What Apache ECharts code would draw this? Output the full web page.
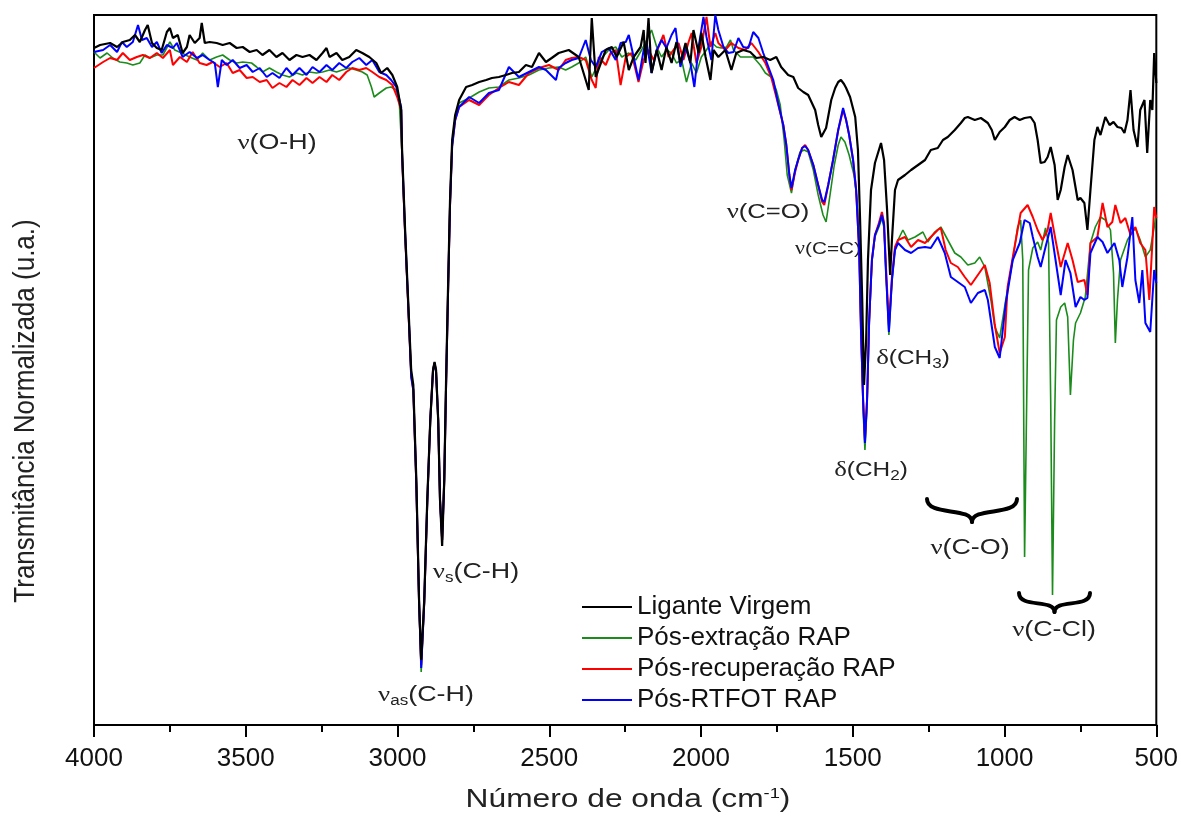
<!DOCTYPE html>
<html lang="pt-BR">
	<head>
		<meta charset="utf-8" />
		<title>FTIR</title>
	</head>
	<body style="margin:0">
		<div id="main" style="width: 1181px;height: 825px"></div>

		<script src="https://cdn.jsdelivr.net/npm/echarts@6/dist/echarts.min.js"></script>
		<script type="text/javascript">
			// [número de onda (cm-1), transmitância normalizada (u.a.)]
			const ligante = [
				[4000,67.7],[3980,68.0],[3947,68.2],[3924,67.8],[3905,68.3],[3882,68.5],[3865,69.0],[3849,68.3],[3832,69.5],[3823,70.0],[3809,68.2],[3793,67.7],[3777,67.5],[3760,69.3],[3750,69.7],[3740,68.7],[3724,69.0],[3708,67.2],[3694,67.8],[3685,69.0],[3668,68.2],[3652,68.7],[3645,70.2],[3635,68.2],[3619,68.3],[3596,68.2],[3576,68.0],[3553,68.2],[3530,67.7],[3510,67.8],[3487,67.3],[3464,67.5],[3445,67.0],[3422,67.5],[3399,66.8],[3379,67.2],[3356,66.5],[3333,67.0],[3313,66.8],[3290,67.0],[3267,66.5],[3247,67.2],[3234,67.7],[3224,66.8],[3201,67.2],[3182,66.5],[3159,66.8],[3136,67.5],[3116,67.2],[3093,66.8],[3070,66.2],[3054,65.2],[3034,65.7],[3017,65.0],[3001,63.8],[2988,61.5],
				[2985,57.5],[2975,49.5],[2965,42.5],[2955,35.5],[2948,34.0],[2938,24.5],[2929,12.5],[2922,6.5],[2912,12.5],[2902,22.5],[2892,30.5],[2883,35.5],[2878,36.3],[2873,35.5],[2866,30.5],[2860,22.5],[2853,17.9],[2846,24.5],[2840,34.5],[2833,44.5],[2827,52.5],[2820,58.5],[2810,61.0],
				[2797,62.5],[2774,63.8],[2754,64.0],[2731,64.3],[2708,64.5],[2689,64.7],[2666,64.8],[2643,65.0],[2623,65.2],[2600,65.3],[2577,66.0],[2557,65.8],[2534,67.2],[2511,66.3],[2492,66.7],[2469,67.2],[2436,67.5],[2403,66.8],[2370,63.5],[2360,70.7],[2347,64.8],[2330,66.2],[2314,67.5],[2294,67.8],[2278,66.8],[2255,68.3],[2238,65.5],[2222,66.8],[2199,67.8],[2189,69.5],[2183,66.2],[2173,70.7],[2163,65.2],[2146,67.5],[2130,65.5],[2114,67.8],[2097,66.2],[2081,68.3],[2068,66.2],[2051,68.2],[2035,66.2],[2025,69.5],[2008,67.2],[1999,69.2],[1985,66.8],[1969,64.5],[1959,67.5],[1943,66.8],[1920,67.5],[1900,65.5],[1884,67.2],[1861,67.5],[1838,67.3],[1818,66.7],[1795,66.8],[1772,66.5],[1752,66.8],[1736,65.8],[1713,65.0],[1696,64.8],[1680,63.7],[1663,63.3],[1647,63.0],[1624,61.5],[1614,60.0],[1604,58.8],[1588,59.7],[1571,62.5],[1558,63.7],[1548,64.3],[1539,64.5],[1529,64.1],[1522,63.7],[1509,62.8],[1492,60.8],[1483,57.5],[1476,50.5],[1469,42.5],[1463,34.0],[1456,38.5],[1450,46.5],[1440,53.5],[1427,56.2],[1414,57.5],[1407,58.2],[1397,56.5],[1387,51.5],[1377,45.0],[1371,48.5],[1361,53.5],[1351,54.5],[1328,55.0],[1308,55.5],[1285,56.0],[1262,56.5],[1243,57.5],[1220,57.7],[1203,58.5],[1187,58.8],[1164,59.5],[1144,60.2],[1131,60.7],[1121,60.8],[1098,60.5],[1078,60.7],[1055,60.2],[1042,59.5],[1032,58.5],[1016,59.3],[999,59.8],[983,60.5],[967,60.8],[950,60.5],[934,60.7],[914,60.8],[901,60.2],[891,58.5],[881,56.2],[868,56.3],[858,56.8],[848,57.8],[835,56.0],[825,52.5],[815,53.5],[802,55.8],[792,57.0],[786,57.2],[776,55.5],[759,52.5],[750,52.7],[737,52.2],[727,49.5],[717,53.5],[704,58.5],[694,59.8],[684,59.0],[668,60.8],[654,60.0],[641,60.3],[628,59.8],[615,59.7],[605,59.2],[595,60.5],[585,63.5],[575,59.5],[562,57.8],[553,61.5],[539,62.5],[530,57.2],[520,62.5],[513,61.5],[507,67.2],[503,65.5],[500,64.2]
			];
			const posExtracao = [
				[4000,67.3],[3980,66.7],[3957,67.2],[3938,66.7],[3915,66.3],[3892,66.2],[3872,66.0],[3849,66.2],[3832,67.0],[3816,66.7],[3793,67.0],[3773,67.0],[3750,68.3],[3734,67.5],[3711,67.2],[3685,66.8],[3661,66.5],[3642,67.2],[3619,66.5],[3596,66.8],[3576,67.0],[3553,66.5],[3530,66.2],[3510,66.3],[3481,66.2],[3464,65.8],[3445,65.3],[3422,65.7],[3399,65.3],[3379,65.0],[3356,64.8],[3333,65.2],[3313,65.0],[3290,65.3],[3267,65.2],[3247,65.3],[3224,65.5],[3201,65.3],[3182,65.5],[3159,65.7],[3136,65.5],[3116,65.3],[3100,65.0],[3086,63.8],[3077,62.8],[3060,63.2],[3037,63.7],[3021,63.8],[3004,63.5],[2994,62.2],
				[2985,57.0],[2975,49.0],[2965,42.0],[2955,35.0],[2948,33.5],[2938,24.0],[2929,12.0],[2922,5.3],[2912,12.0],[2902,22.0],[2892,30.5],[2883,35.5],[2878,36.2],[2873,35.3],[2866,30.5],[2860,22.5],[2853,18.5],[2846,24.5],[2840,34.0],[2833,44.0],[2827,52.0],[2820,58.0],[2810,60.8],
				[2797,62.2],[2764,62.7],[2731,63.3],[2699,63.7],[2666,63.8],[2633,64.5],[2600,64.7],[2567,65.0],[2534,65.5],[2501,65.7],[2469,65.8],[2446,65.5],[2426,65.8],[2403,66.2],[2380,66.8],[2360,64.8],[2344,65.8],[2327,66.7],[2304,67.5],[2281,67.8],[2261,66.8],[2238,67.2],[2215,66.5],[2196,67.5],[2179,68.5],[2163,69.5],[2146,67.8],[2130,66.8],[2114,67.5],[2097,67.2],[2081,66.2],[2064,66.5],[2048,64.3],[2031,66.2],[2015,65.2],[1999,66.8],[1982,67.5],[1966,68.3],[1949,67.8],[1933,67.7],[1916,67.8],[1903,68.5],[1893,67.5],[1870,66.8],[1851,66.8],[1828,66.8],[1805,66.0],[1788,65.2],[1769,64.8],[1752,63.5],[1739,62.0],[1726,58.5],[1716,55.0],[1702,53.2],[1690,55.5],[1674,57.3],[1660,57.5],[1647,57.3],[1630,55.5],[1614,53.0],[1598,51.0],[1588,50.3],[1575,53.0],[1561,56.0],[1548,58.0],[1539,58.8],[1526,58.3],[1512,57.0],[1496,55.0],[1486,52.5],[1479,47.5],[1473,39.5],[1466,31.5],[1460,27.5],[1453,32.0],[1446,40.0],[1437,46.3],[1427,48.8],[1414,49.8],[1404,50.7],[1397,49.7],[1391,45.3],[1381,39.0],[1371,44.3],[1361,47.5],
				[1351,48.5],[1335,49.5],[1318,48.5],[1295,48.8],[1269,49.3],[1253,48.3],[1230,49.3],[1210,49.8],[1187,48.5],[1164,47.2],[1144,46.8],[1121,46.0],[1098,46.2],[1082,46.8],[1065,45.8],[1045,42.5],[1032,39.8],[1016,38.7],[996,42.5],[973,46.5],[957,49.8],[947,50.5],[940,46.5],[934,16.8],[927,32.5],[921,45.5],[907,47.7],[891,48.3],[881,47.5],[865,49.7],[855,48.2],[848,32.5],[842,13.0],[835,30.5],[829,40.5],[815,41.8],[802,42.2],[792,40.8],[783,33.0],[773,38.5],[766,40.2],[750,41.2],[734,42.8],[717,48.2],[701,49.8],[684,50.8],[668,50.5],[651,49.5],[641,45.2],[635,38.2],[628,42.5],[618,46.5],[595,48.5],[585,49.0],[569,49.7],[553,48.5],[536,46.8],[520,47.5],[503,50.5],[500,51.0]
			];
			const posRecuperacao = [
				[4000,65.7],[3970,66.3],[3947,66.7],[3924,66.5],[3905,67.2],[3882,66.5],[3859,66.8],[3839,67.0],[3816,66.7],[3793,67.2],[3773,66.7],[3750,67.5],[3740,66.0],[3717,66.8],[3694,66.3],[3675,67.3],[3652,66.2],[3629,66.0],[3609,66.3],[3586,65.8],[3563,66.2],[3543,65.2],[3520,65.5],[3497,64.7],[3477,64.8],[3454,64.3],[3431,64.5],[3412,63.7],[3389,64.2],[3366,63.8],[3346,64.5],[3323,64.0],[3300,64.7],[3280,64.2],[3257,64.8],[3234,64.3],[3215,65.0],[3192,64.5],[3169,65.3],[3149,65.7],[3126,65.5],[3103,65.7],[3083,65.3],[3060,64.8],[3037,64.5],[3017,64.0],[3001,62.8],[2988,61.5],
				[2985,57.0],[2975,49.0],[2965,42.0],[2955,35.0],[2948,33.5],[2938,24.0],[2929,12.2],[2922,6.0],[2912,12.2],[2902,22.2],[2892,30.5],[2883,35.5],[2878,36.2],[2873,35.3],[2866,30.5],[2860,22.5],[2853,18.5],[2846,24.5],[2840,34.0],[2833,44.0],[2827,52.0],[2820,58.0],[2810,60.5],
				[2797,61.8],[2764,62.5],[2731,62.0],[2699,63.0],[2666,63.7],[2633,64.3],[2600,64.0],[2567,65.2],[2534,65.7],[2501,66.0],[2469,65.5],[2446,66.5],[2426,66.7],[2403,66.8],[2380,66.5],[2360,64.5],[2347,63.7],[2337,66.8],[2314,66.0],[2298,67.2],[2281,67.5],[2265,64.0],[2248,66.8],[2229,67.2],[2206,64.3],[2189,66.5],[2173,67.5],[2156,66.5],[2140,67.8],[2124,69.0],[2107,66.8],[2091,67.5],[2074,68.2],[2058,66.5],[2041,68.3],[2031,69.2],[2015,66.2],[1999,67.8],[1982,70.8],[1969,67.8],[1953,69.2],[1943,68.2],[1920,67.5],[1900,68.2],[1877,67.7],[1854,67.5],[1834,68.2],[1811,67.3],[1788,66.2],[1769,64.8],[1752,62.8],[1729,60.0],[1719,58.0],[1709,55.0],[1702,53.5],[1690,55.3],[1680,56.5],[1667,57.7],[1657,58.0],[1647,57.5],[1630,56.0],[1614,54.0],[1601,52.3],[1594,52.0],[1581,54.0],[1565,56.5],[1548,59.5],[1532,61.5],[1522,60.5],[1512,59.0],[1499,56.5],[1489,53.5],[1479,47.5],[1473,39.5],[1466,32.5],[1460,28.5],[1453,32.5],[1446,40.5],[1437,46.5],[1427,49.0],[1414,50.2],[1404,51.3],[1397,50.2],[1391,46.0],[1381,40.0],[1371,44.8],[1361,47.8],
				[1351,48.5],[1328,48.8],[1308,47.8],[1285,48.5],[1262,48.2],[1243,48.8],[1220,49.5],[1210,49.7],[1194,47.5],[1177,46.2],[1154,45.8],[1131,44.8],[1111,44.0],[1088,45.0],[1065,46.0],[1049,44.2],[1032,40.0],[1016,37.2],[999,38.8],[990,43.8],[967,47.8],[947,51.2],[924,52.0],[907,50.8],[891,49.5],[875,48.5],[858,49.5],[848,51.2],[832,48.5],[815,45.8],[792,48.2],[776,46.5],[759,44.3],[737,44.5],[727,43.0],[717,48.2],[694,48.8],[677,52.2],[661,49.8],[645,50.3],[635,52.0],[618,50.2],[602,50.7],[585,49.0],[569,49.8],[553,48.2],[536,47.5],[523,42.5],[513,48.2],[507,51.8],[500,50.7]
			];
			const posRtfot = [
				[4000,67.3],[3970,67.5],[3947,68.0],[3924,67.3],[3908,68.3],[3892,67.8],[3872,68.3],[3855,70.0],[3842,68.5],[3826,68.7],[3809,67.8],[3793,68.3],[3777,67.2],[3760,68.0],[3740,67.7],[3727,68.2],[3708,66.8],[3685,67.3],[3661,66.7],[3642,67.0],[3619,66.5],[3602,66.2],[3592,63.8],[3579,66.5],[3563,66.0],[3543,66.5],[3520,65.7],[3497,66.0],[3477,65.3],[3454,65.7],[3431,64.8],[3412,65.2],[3389,64.7],[3366,65.7],[3346,65.0],[3323,65.7],[3300,65.0],[3280,65.8],[3257,65.3],[3234,66.0],[3215,65.5],[3192,66.2],[3169,65.7],[3149,66.3],[3126,66.7],[3103,66.0],[3083,66.5],[3060,65.3],[3037,65.0],[3021,64.5],[3004,63.8],[2988,61.8],
				[2985,57.2],[2975,49.2],[2965,42.2],[2955,34.8],[2948,33.5],[2938,24.0],[2929,12.2],[2922,5.7],[2912,12.2],[2902,22.2],[2892,30.5],[2883,35.5],[2878,36.2],[2873,35.3],[2866,30.5],[2860,22.5],[2853,18.5],[2846,24.5],[2840,34.0],[2833,44.0],[2827,52.0],[2820,57.8],[2810,60.5],
				[2797,61.8],[2764,62.8],[2731,62.2],[2699,63.2],[2666,63.5],[2633,65.8],[2600,64.8],[2567,65.3],[2534,65.8],[2511,65.5],[2478,64.5],[2469,65.7],[2446,66.2],[2426,66.5],[2403,66.7],[2380,68.5],[2363,66.5],[2347,65.8],[2327,67.3],[2304,67.7],[2281,66.5],[2265,68.2],[2248,68.3],[2238,69.0],[2222,66.8],[2206,64.5],[2189,67.5],[2179,68.2],[2163,65.2],[2146,67.5],[2130,68.5],[2114,67.7],[2097,69.0],[2084,69.7],[2068,65.8],[2051,67.8],[2035,66.2],[2022,63.8],[2008,67.8],[1992,70.8],[1982,68.8],[1966,66.5],[1953,71.0],[1943,69.5],[1926,67.8],[1910,67.2],[1893,67.3],[1877,68.7],[1861,67.8],[1844,67.7],[1828,69.3],[1811,68.7],[1795,67.2],[1778,65.8],[1762,64.5],[1746,62.2],[1729,60.0],[1719,58.0],[1709,55.0],[1702,53.7],[1690,55.5],[1680,56.5],[1667,57.7],[1657,57.9],[1647,57.5],[1630,56.0],[1614,54.0],[1601,52.5],[1594,52.3],[1581,54.0],[1565,56.5],[1548,59.5],[1532,61.7],[1522,60.5],[1512,59.0],[1499,56.5],[1489,53.5],[1479,47.5],[1473,39.5],[1466,32.5],[1460,28.2],[1453,32.5],[1446,40.5],[1437,46.5],[1427,49.0],[1414,50.0],[1404,51.0],[1397,50.0],[1391,45.5],[1381,39.3],[1371,44.5],[1361,47.5],
				[1351,48.2],[1328,47.5],[1308,47.2],[1285,47.7],[1262,47.8],[1243,47.7],[1220,48.8],[1197,47.2],[1177,44.8],[1154,44.3],[1131,43.8],[1111,42.2],[1088,43.2],[1065,43.5],[1055,42.5],[1032,37.8],[1016,36.7],[996,42.2],[973,46.5],[950,48.2],[934,50.5],[917,50.2],[907,48.8],[891,46.8],[881,45.8],[865,47.8],[848,49.8],[832,46.5],[815,43.0],[799,46.5],[783,45.2],[766,41.8],[750,42.8],[737,42.5],[727,42.7],[717,47.2],[694,48.8],[677,48.3],[661,47.2],[638,48.2],[622,46.5],[612,43.8],[595,46.8],[579,50.8],[569,44.5],[556,42.2],[546,45.5],[536,40.2],[520,39.3],[507,45.5],[500,44.2]
			];
			const xTicks = { min: 500, max: 4000, step: 500 };

			const nu = '{g|ν}';
			const delta = '{g|δ}';
			const baseFont = '"Liberation Sans", Arial, sans-serif';
			const serif = '"Liberation Serif", "DejaVu Serif", serif';
			const rich = {
				g: { fontFamily: serif, fontSize: 22, fill: '#222' },
				gs: { fontFamily: serif, fontSize: 18, fill: '#222' },
				sub: { fontSize: 14, verticalAlign: 'bottom', padding: [12, 0, 0, 0], fill: '#222' },
				sup: { fontSize: 15, verticalAlign: 'top', padding: [0, 0, 12, 0], fill: '#111' },
			};
			// the source picture is stretched sideways, so horizontal texts get scaleX
			const note = (x, y, text, size, opts) => ({
				type: 'text',
				x, y, scaleX: 1.22,
				...(opts || {}),
				style: {
					text, rich, fill: '#222', fontSize: size || 22, fontFamily: baseFont,
					align: 'center', verticalAlign: 'middle',
				},
			});
			const brace = (x1, x2, yTop, yBottom) => {
				const xm = (x1 + x2) / 2, ym = yTop + (yBottom - yTop) * 0.5;
				const s = { stroke: '#000', lineWidth: 4, fill: 'none', lineCap: 'round' };
				return [
					{ type: 'bezierCurve', shape: { x1, y1: yTop, cpx1: x1, cpy1: ym + 6, cpx2: xm, cpy2: ym - 4, x2: xm, y2: yBottom }, style: s },
					{ type: 'bezierCurve', shape: { x1: x2, y1: yTop, cpx1: x2, cpy1: ym + 6, cpx2: xm, cpy2: ym - 4, x2: xm, y2: yBottom }, style: s },
				];
			};

			const myChart = echarts.init(document.getElementById('main'));
			const mkSeries = (name, data, color, width) => ({
				name, type: 'line', data, symbol: 'none', showSymbol: false,
				lineStyle: { color, width }, itemStyle: { color },
				animation: false,
			});
			const option = {
				animation: false,
				textStyle: { fontFamily: baseFont },
				grid: { left: 94, right: 21, top: 15, bottom: 100, show: true, borderColor: '#000', borderWidth: 2 },
				legend: {
					data: ['Ligante Virgem', 'Pós-extração RAP', 'Pós-recuperação RAP', 'Pós-RTFOT RAP'],
					orient: 'vertical', left: 577, top: 589,
					icon: 'rect', itemWidth: 50, itemHeight: 2, itemGap: 5,
					textStyle: { fontSize: 26, color: '#111', fontFamily: baseFont, lineHeight: 26 },
				},
				xAxis: {
					type: 'value', inverse: true,
					min: xTicks.min, max: xTicks.max, interval: xTicks.step,
					axisLine: { lineStyle: { color: '#000', width: 2 } },
					axisTick: { inside: false, length: 12, lineStyle: { color: '#000', width: 2 } },
					minorTick: { show: true, splitNumber: 2, length: 7, lineStyle: { color: '#000', width: 2 } },
					axisLabel: { fontSize: 26, color: '#111', margin: 21, fontFamily: baseFont, formatter: v => String(v) },
					splitLine: { show: false },
				},
				yAxis: {
					type: 'value', min: 0, max: 71,
					axisLine: { show: true, lineStyle: { color: '#000', width: 2 } },
					axisTick: { show: false }, axisLabel: { show: false }, splitLine: { show: false },
				},
				series: [
					mkSeries('Pós-extração RAP', posExtracao, '#1b8c1b', 1.6),
					mkSeries('Pós-recuperação RAP', posRecuperacao, '#ff0000', 2),
					mkSeries('Pós-RTFOT RAP', posRtfot, '#0000ff', 2),
					mkSeries('Ligante Virgem', ligante, '#000000', 2.2),
				],
				graphic: [
					note(26, 411, 'Transmitância Normalizada (u.a.)', 26, { rotation: Math.PI / 2, scaleX: 1, scaleY: 1.15 }),
					note(628, 800, 'Número de onda (cm{sup|-1})', 26),
					note(277, 143, nu + '(O-H)'),
					note(768, 212, nu + '(C=O)', 21),
					note(828, 249, '{gs|ν}(C=C)', 17),
					note(913, 358, delta + '(CH{sub|3})', 20),
					note(871, 470, delta + '(CH{sub|2})', 20),
					note(476, 572, nu + '{sub|s}(C-H)'),
					note(426, 695, nu + '{sub|as}(C-H)'),
					note(970, 548, nu + '(C-O)'),
					note(1054, 630, nu + '(C-Cl)'),
					...brace(927, 1017, 499, 522),
					...brace(1019, 1090, 593, 612),
				],
			};
			myChart.setOption(option);
		</script>
	</body>
</html>
